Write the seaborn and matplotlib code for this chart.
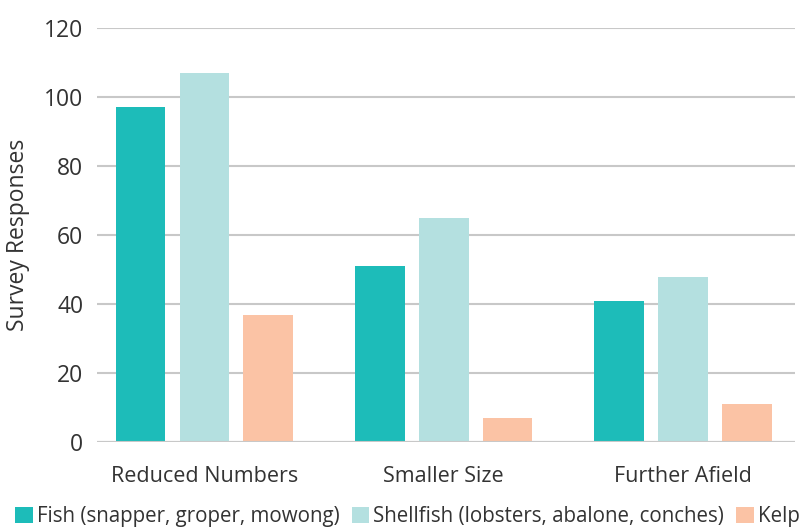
import matplotlib
matplotlib.use("Agg")
import matplotlib.pyplot as plt
import seaborn as sns
import pandas as pd
from matplotlib.patches import Patch

# Survey data
categories = ["Reduced Numbers", "Smaller Size", "Further Afield"]
series_names = [
    "Fish (snapper, groper, mowong)",
    "Shellfish (lobsters, abalone, conches)",
    "Kelp",
]
fish = [97, 51, 41]
shellfish = [107, 65, 48]
kelp = [37, 7, 11]
y_ticks = [0, 20, 40, 60, 80, 100, 120]

colors = ["#1dbcb9", "#b4e0e0", "#fbc3a5"]
text_color = "#333333"

rows = []
for name, vals in zip(series_names, [fish, shellfish, kelp]):
    for cat, v in zip(categories, vals):
        rows.append({"Category": cat, "Series": name, "Responses": v})
df = pd.DataFrame(rows)

sns.set_theme(style="white")
plt.rcParams["font.family"] = ["Open Sans", "DejaVu Sans"]

fig = plt.figure(figsize=(8.10, 5.28), dpi=100)
ax = fig.add_axes([0.12, 0.162, 0.861, 0.7855])

sns.barplot(
    data=df, x="Category", y="Responses", hue="Series",
    order=categories, hue_order=series_names, palette=colors,
    width=0.8, gap=0.22, saturation=1, legend=False, ax=ax, zorder=3,
    linewidth=0,
)

ax.set_ylim(0, 120)
ax.set_xlim(-0.448, 2.467)
ax.set_yticks(y_ticks)
ax.yaxis.grid(True, color="#c8c8c8", linewidth=1.5, zorder=0)
ax.set_axisbelow(True)
for s in ax.spines.values():
    s.set_visible(False)
ax.axhline(0, color="#c8c8c8", linewidth=1.5, zorder=4)

ax.tick_params(axis="y", length=0, pad=10, labelsize=16.5, labelcolor=text_color)
ax.tick_params(axis="x", length=0, pad=17, labelsize=15.5, labelcolor=text_color)
ax.set_xlabel("")
ax.set_ylabel("Survey Responses", fontsize=16.5, color=text_color, labelpad=10)

handles = [Patch(facecolor=c, edgecolor="none") for c in colors]
fig.legend(
    handles, series_names, loc="center", bbox_to_anchor=(0.503, 0.021),
    ncol=3, frameon=False, fontsize=14.8, handlelength=0.85, handleheight=0.85,
    handletextpad=0.2, columnspacing=0.6, labelcolor=text_color,
    borderaxespad=0, borderpad=0,
)

fig.savefig("out.png", dpi=100)
